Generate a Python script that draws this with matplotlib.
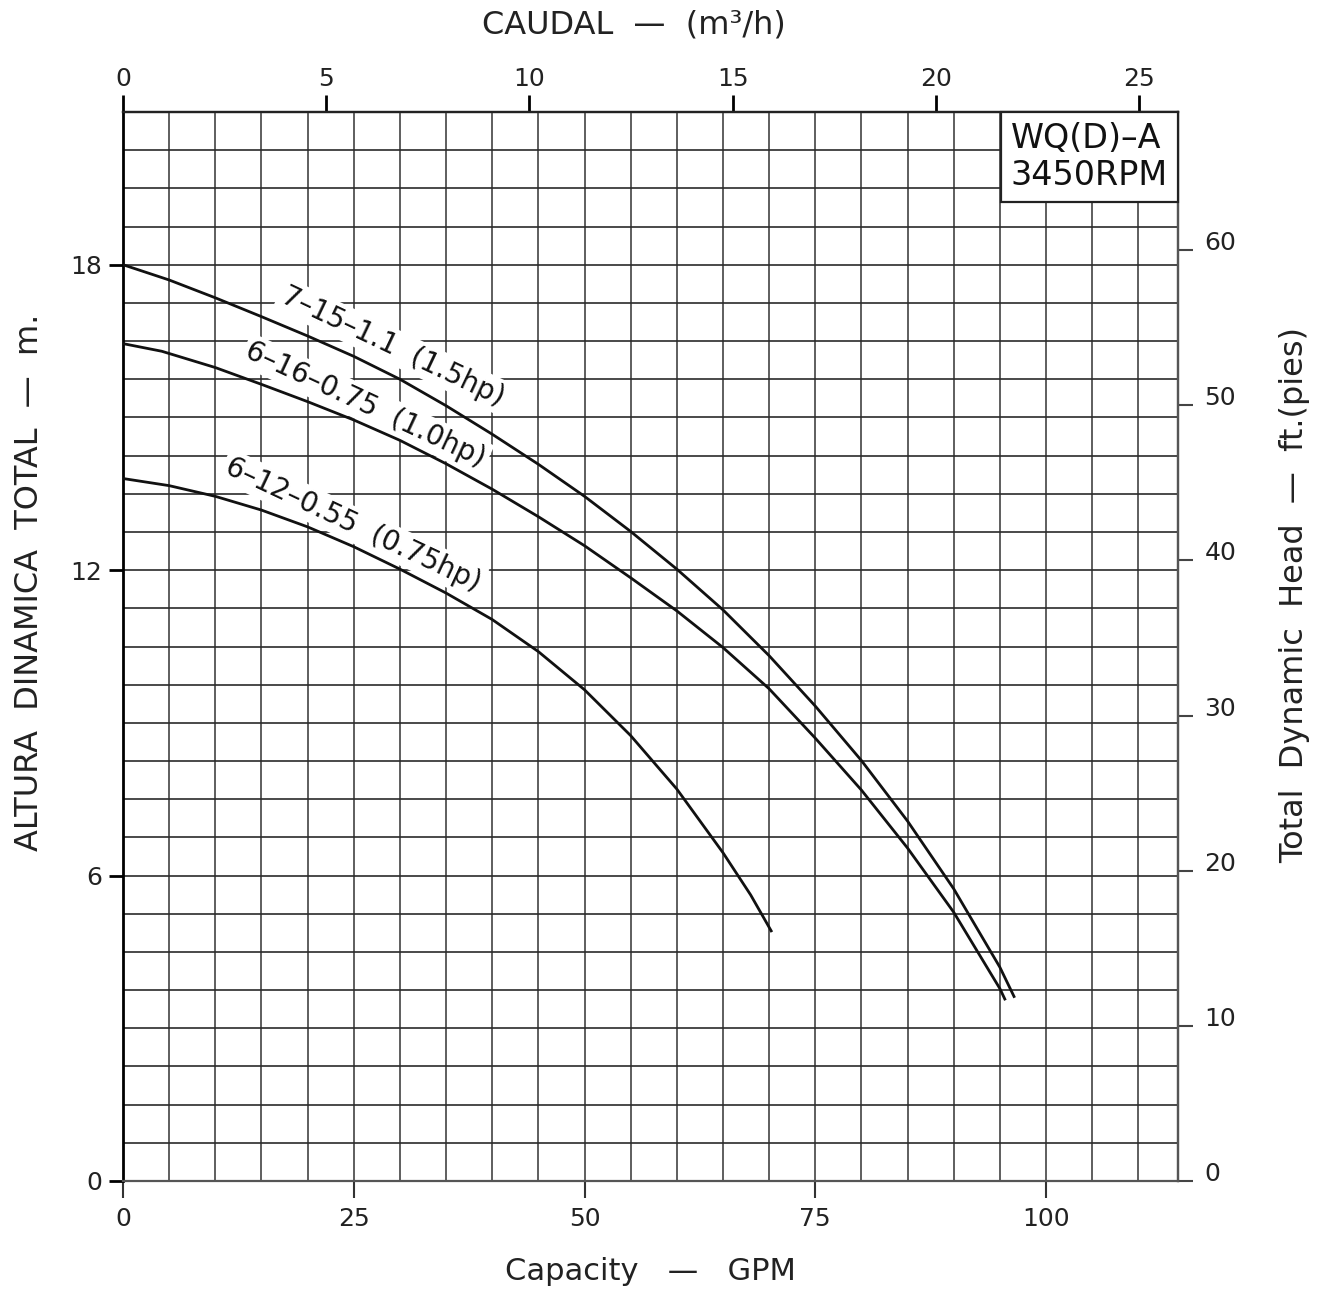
import matplotlib
matplotlib.use('Agg')
import matplotlib.pyplot as plt
from matplotlib.ticker import MultipleLocator, FixedLocator
from matplotlib.offsetbox import AnchoredText

plt.rcParams['font.family'] = ['DejaVu Sans']

GPM_PER_M3H = 4.403
FT_PER_M = 3.2808

# ---- data ----
gpm_a = [0, 5, 10, 15, 20, 25, 30, 35, 40, 45, 50, 55, 60, 65, 70, 75, 80, 85, 90, 95, 96.6]
head_a = [18.0, 17.70, 17.35, 16.98, 16.60, 16.20, 15.75, 15.23, 14.67, 14.08, 13.45, 12.76,
          12.02, 11.22, 10.32, 9.33, 8.26, 7.07, 5.74, 4.20, 3.60]

gpm_b = [0, 4.2, 10, 15, 20, 25, 30, 35, 40, 45, 50, 55, 60, 65, 70, 75, 80, 85, 90, 95, 95.6]
head_b = [16.45, 16.30, 15.98, 15.65, 15.31, 14.95, 14.55, 14.09, 13.59, 13.05, 12.48, 11.85,
          11.20, 10.48, 9.67, 8.70, 7.68, 6.54, 5.28, 3.78, 3.55]

gpm_c = [0, 5, 10, 15, 20, 25, 30, 35, 40, 45, 50, 55, 60, 65, 68, 70.3]
head_c = [13.80, 13.66, 13.45, 13.18, 12.85, 12.46, 12.02, 11.55, 11.03, 10.40, 9.65, 8.75,
          7.70, 6.45, 5.62, 4.89]

curve_labels = ['7–15–1.1  (1.5hp)', '6–16–0.75  (1.0hp)', '6–12–0.55  (0.75hp)']
label_gpm = [29.2, 26.3, 24.9]
label_head = [16.40, 15.25, 12.90]
label_rot = [-25.4, -25.0, -25.2]

bottom_ticks = [0, 25, 50, 75, 100]
left_ticks = [0, 6, 12, 18]
top_ticks = [0, 5, 10, 15, 20, 25]
right_ticks = [0, 10, 20, 30, 40, 50, 60]
title_text = 'WQ(D)–A\n3450RPM'

x_max = 114.3
y_max = 21.0

# ---- figure ----
W, H = 1331, 1291
fig = plt.figure(figsize=(W / 100, H / 100), dpi=100)
ax = fig.add_axes([123 / W, 1 - 1181 / H, (1178 - 123) / W, (1181 - 112) / H])
ax.set_xlim(0, x_max)
ax.set_ylim(0, y_max)

ax.xaxis.set_major_locator(FixedLocator(bottom_ticks))
ax.xaxis.set_minor_locator(MultipleLocator(5))
ax.yaxis.set_major_locator(FixedLocator(left_ticks))
ax.yaxis.set_minor_locator(MultipleLocator(0.75))
ax.grid(axis='x', which='both', color='#5e5e5e', linewidth=1.4)
ax.grid(axis='y', which='both', color='#2a2a2a', linewidth=1.2)
ax.set_axisbelow(True)

ax.tick_params(which='minor', length=0)
ax.tick_params(axis='x', which='major', direction='out', length=12, width=1.5,
               color='#333333', labelsize=18, pad=7)
ax.tick_params(axis='y', which='major', direction='out', length=10, width=2,
               color='black', labelsize=18, pad=5)
for lbl in ax.get_xticklabels() + ax.get_yticklabels():
    lbl.set_color('#222222')

ax.spines['left'].set_color('black')
ax.spines['left'].set_linewidth(2)
ax.spines['top'].set_color('#222222')
ax.spines['top'].set_linewidth(1.6)
ax.spines['bottom'].set_color('#555555')
ax.spines['bottom'].set_linewidth(1.6)
ax.spines['right'].set_color('#555555')
ax.spines['right'].set_linewidth(1.6)

# curves
for g, h in [(gpm_a, head_a), (gpm_b, head_b), (gpm_c, head_c)]:
    ax.plot(g, h, color='#111111', linewidth=2.0, zorder=4, solid_capstyle='butt',
            solid_joinstyle='round')

for txt, gx, hy, rot in zip(curve_labels, label_gpm, label_head, label_rot):
    ax.text(gx, hy, txt, rotation=rot, rotation_mode='anchor', ha='center', va='center',
            fontsize=20, color='#111111', zorder=3,
            bbox=dict(boxstyle='square,pad=0.12', fc='white', ec='none'))

# top axis (m3/h)
top = ax.secondary_xaxis('top', functions=(lambda x: x / GPM_PER_M3H, lambda x: x * GPM_PER_M3H))
top.set_xticks(top_ticks)
top.tick_params(direction='out', length=12, width=2, color='black', labelsize=18, pad=3,
                labelcolor='#222222')
top.spines['top'].set_color('#222222')
top.spines['top'].set_linewidth(1.6)

# right axis (ft)
right = ax.secondary_yaxis('right', functions=(lambda y: y * FT_PER_M, lambda y: y / FT_PER_M))
right.set_yticks(right_ticks)
right.tick_params(direction='out', length=11, width=1.5, color='#444444', labelsize=18, pad=8,
                  labelcolor='#222222')
right.spines['right'].set_color('#555555')
right.spines['right'].set_linewidth(1.6)
for lbl in right.get_yticklabels():
    lbl.set_va('baseline')

# title box
at = AnchoredText(title_text, loc='upper right', frameon=True, pad=0.3, borderpad=0,
                  prop=dict(size=24, color='#111111', linespacing=1.15, weight='medium'))
at.patch.set_edgecolor('#222222')
at.patch.set_linewidth(1.6)
at.patch.set_boxstyle('square,pad=0')
at.set_zorder(5)
ax.add_artist(at)

# axis titles
fig.text(634 / W, 1 - 25 / H, 'CAUDAL  —  (m³/h)', ha='center', va='center', fontsize=23,
         color='#222222')
fig.text(650 / W, 1 - 1272 / H, 'Capacity   —   GPM', ha='center', va='center', fontsize=22,
         color='#222222')
fig.text(30 / W, 1 - 582 / H, 'ALTURA  DINAMICA  TOTAL  —  m.', ha='center', va='center',
         rotation=90, fontsize=23, color='#222222')
fig.text(1295 / W, 1 - 595 / H, 'Total  Dynamic  Head  —  ft.(pies)', ha='center', va='center',
         rotation=90, fontsize=23, color='#222222')

fig.savefig('out.png', dpi=100, facecolor='white')
